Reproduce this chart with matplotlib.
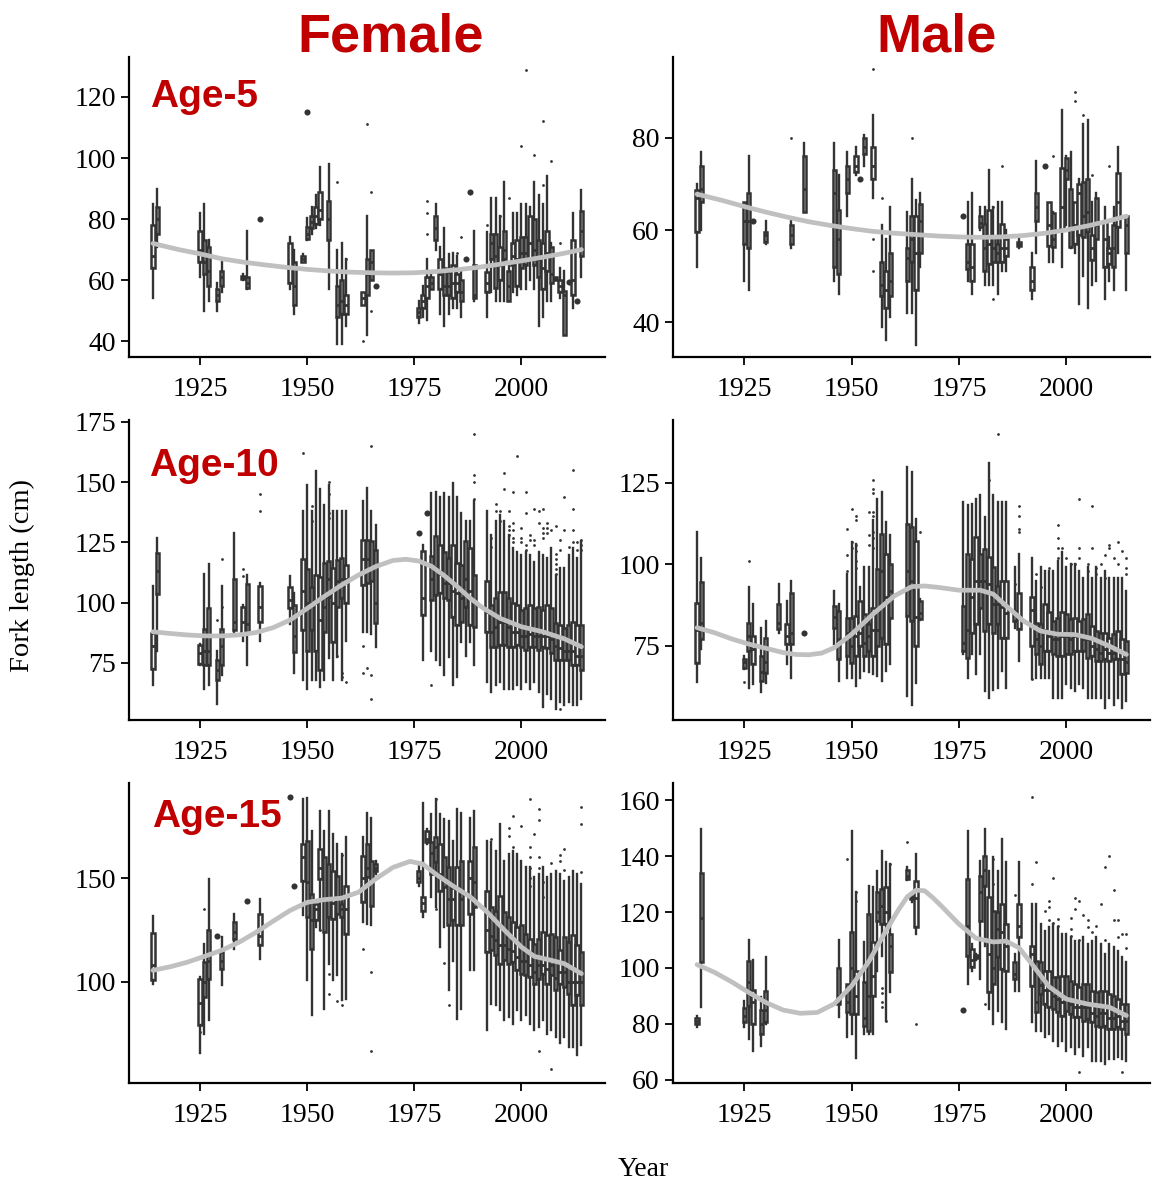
import matplotlib
matplotlib.use('Agg')
import matplotlib.pyplot as plt

# ---------------- DATA ----------------
# box rows: (year, whisker_low, q1, median, q3, whisker_high)
F5_boxes = [
    (1914, 54, 64, 68, 78, 85), (1915, 71, 75, 80, 84, 90),
    (1925, 61, 66, 70, 76, 82), (1926, 50, 62, 66, 73, 85), (1927, 53, 58, 63, 71, 73),
    (1929, 50, 53, 55, 57, 59), (1930, 56, 58, 61, 63, 66),
    (1935, 60, 60.5, 61, 61.5, 62), (1936, 57, 57.5, 59, 61, 76),
    (1946, 57, 59, 64, 72, 74), (1947, 49, 52, 58, 66, 70), (1949, 66, 66, 67, 68, 68.5),
    (1950, 73, 73.4, 75, 77.3, 80.5), (1951, 75, 77, 79, 81, 84), (1952, 77, 78.5, 81, 84, 88),
    (1953, 78, 80, 83, 89, 97), (1955, 57, 73, 80, 86, 98),
    (1957, 39, 48, 52, 58, 70), (1958, 39, 49, 53, 60, 72), (1959, 45, 49, 52, 55, 67),
    (1963, 52, 52, 54, 56, 56), (1964, 42, 55, 62, 67, 81), (1965, 60, 60, 66, 70, 70),
    (1976, 46, 48, 49.5, 51, 53), (1977, 48, 51, 53, 55, 58), (1978, 47, 54, 58, 61, 67),
    (1979, 57, 57, 59, 61, 62), (1980, 70, 73, 77, 81, 85), (1981, 49, 57, 62, 67, 71),
    (1982, 45, 55, 58, 64, 77), (1983, 49, 55, 58, 62.5, 68.5), (1984, 51, 54, 59, 65, 69),
    (1985, 51, 56, 59, 62, 68), (1986, 48, 53, 56, 60, 63), (1989, 53, 54, 55, 65, 76),
    (1992, 48, 56, 59, 62.5, 75.6), (1993, 56, 67, 72, 75, 87), (1994, 53, 57.5, 68, 75, 87),
    (1995, 53, 60, 65, 71, 81), (1996, 53, 67, 70, 76, 92), (1997, 53, 53, 58, 63, 65),
    (1998, 56, 65, 68, 72, 82), (1999, 55, 58, 67, 73, 82), (2000, 57, 64, 69, 74, 85),
    (2001, 57, 65, 69, 74, 85), (2002, 60, 67, 72, 81, 84), (2003, 57, 65, 70, 80, 92),
    (2004, 45, 61, 67, 73, 88), (2005, 48, 57, 64, 72, 85), (2006, 53, 63, 69, 76, 94),
    (2007, 53, 59, 62, 71, 72), (2008, 60, 60, 60.5, 61, 61), (2009, 54, 56, 58, 60, 64),
    (2010, 42, 42, 55, 56.5, 63), (2012, 51, 55, 60, 73, 82), (2014, 61, 68, 76, 82.5, 89.5),
]
F5_single = [(1939, 80), (1966, 58), (1987, 67), (1988, 89), (2011, 59.5), (2013, 53), (1950, 115)]
F5_out = [(1957, 92), (1959, 67), (1963, 40), (1964, 111), (1965, 89), (1965, 50), (1978, 86),
          (1978, 82), (1978, 75), (1985, 69), (1986, 74), (1992, 78), (1995, 81), (1997, 87),
          (2000, 104), (2001, 129), (2003, 101), (2005, 112), (2005, 91), (2007, 99), (2009, 72)]
F5_sm_year = [1914, 1920, 1925, 1930, 1935, 1940, 1945, 1950, 1955, 1960, 1965, 1970, 1975, 1980,
              1985, 1990, 1995, 2000, 2005, 2010, 2014]
F5_sm = [72, 70, 68.6, 67, 65.9, 65, 64.2, 63.5, 63, 62.6, 62.4, 62.3, 62.4, 62.8,
         63.4, 64.2, 65.2, 66.3, 67.5, 68.8, 70]

M5_boxes = [
    (1914, 52, 59.5, 67, 68.7, 70), (1915, 60, 66, 69, 74, 77),
    (1925, 49, 57, 62, 66, 66), (1926, 47, 56, 62, 68, 76), (1930, 57, 57.5, 59, 59.5, 62),
    (1936, 56, 57, 59, 61, 62), (1939, 64, 64, 69, 76, 79),
    (1946, 49, 52, 68, 73, 79), (1947, 46, 50.5, 58, 64.4, 72), (1949, 63, 68, 71, 74, 77),
    (1951, 72, 72.5, 74, 76, 78), (1953, 74, 76.6, 78, 80, 80.7), (1955, 67, 71, 74, 78, 85),
    (1957, 39, 45.6, 48, 53, 61), (1958, 36, 43, 47, 51, 58), (1959, 41, 45.6, 49, 55, 65),
    (1963, 42, 49, 54, 56, 64), (1964, 42, 53, 58, 63, 71), (1965, 35, 47, 55, 63, 66.5),
    (1966, 52, 55, 62, 65.6, 68),
    (1977, 49, 51.5, 53, 57, 66), (1978, 46, 49, 52, 57, 68), (1980, 60, 60.6, 61.5, 63, 65),
    (1981, 48, 51, 56, 61.4, 65), (1982, 48, 52.6, 57, 64.3, 73), (1983, 48, 53, 56, 58.4, 65),
    (1984, 46, 53, 55, 57, 66), (1985, 51, 53, 56, 61.4, 66), (1986, 51, 54.4, 56, 58, 60),
    (1989, 56, 56.5, 57, 57.5, 58), (1992, 45, 47, 49, 52, 55), (1993, 55, 62, 65, 68, 75),
    (1996, 53, 56.6, 61, 66, 66), (1997, 53, 56.4, 58, 63.7, 64), (1999, 52, 60, 65, 73.4, 86),
    (2000, 61, 71, 73, 75.6, 76), (2001, 56, 56.2, 60, 69, 77), (2002, 55, 57, 61, 66, 66),
    (2003, 44, 59, 68, 70, 71), (2004, 50, 58.4, 63, 70.5, 83), (2005, 43, 59.5, 64, 71, 84),
    (2006, 48, 53.5, 56, 59, 66), (2007, 49, 58, 61, 67, 68), (2009, 45, 52, 58, 62, 65),
    (2010, 49, 52.6, 55, 56, 58.4), (2011, 47, 52, 56, 61, 65), (2012, 55, 60.6, 66, 72.3, 78),
    (2014, 47, 55, 61, 63, 63),
]
M5_single = [(1927, 62), (1952, 71), (1976, 63), (1995, 74)]
M5_out = [(1936, 80), (1955, 95), (1955, 58), (1955, 51), (1957, 67), (1964, 80), (1983, 45),
          (1983, 65), (1985, 74), (1997, 76), (2002, 90), (2002, 88), (2004, 85), (2006, 72), (2010, 74)]
M5_sm_year = [1914, 1920, 1925, 1930, 1935, 1940, 1945, 1950, 1955, 1960, 1965, 1970, 1975, 1980,
              1985, 1990, 1995, 2000, 2005, 2010, 2014]
M5_sm = [67.8, 66.4, 65.1, 63.9, 62.8, 61.8, 61, 60.3, 59.7, 59.3, 59, 58.7, 58.5, 58.4,
         58.5, 58.8, 59.3, 60, 60.9, 62, 63]

F10_boxes = [
    (1914, 66, 72.6, 82, 87.5, 107), (1915, 80, 103.5, 113, 120.6, 127),
    (1925, 74, 74.7, 79, 82.4, 83), (1926, 64, 74, 80, 89, 112), (1927, 66, 74, 80, 97.6, 116),
    (1929, 58, 68, 72, 76, 80), (1930, 70, 74, 82, 89, 107), (1933, 87, 88.6, 92, 110, 129),
    (1935, 84, 87, 92, 98, 99), (1936, 74, 88, 91, 107.6, 111.5), (1939, 84, 92, 98, 107, 108),
    (1946, 91, 97.6, 101, 106.7, 111), (1947, 71, 79.6, 86, 99, 104),
    (1949, 68, 88.6, 105, 118, 138), (1950, 64, 80, 100, 114, 149), (1951, 68, 88.6, 100, 106.7, 138),
    (1952, 68, 80, 100, 111.5, 154.6), (1953, 65, 72, 93, 110.8, 147), (1954, 68, 88, 98, 116.4, 140.7),
    (1955, 77, 102.5, 110, 117.1, 149), (1956, 68, 83.8, 100, 114.3, 138),
    (1957, 77.5, 98.3, 109, 117.8, 138), (1958, 68, 101.8, 110, 118.5, 138),
    (1959, 84, 99.7, 110, 115.7, 138),
    (1963, 88, 107.4, 118, 126, 142), (1964, 88, 108, 118, 126, 147.6),
    (1965, 87, 108.8, 115, 125.4, 138), (1966, 81.7, 91.4, 100, 122, 132.4),
    (1977, 76, 94.9, 102, 121.5, 124), (1979, 80, 101.1, 110, 119.2, 145.6),
    (1980, 76, 103.2, 115, 127.5, 146), (1981, 74, 104, 112, 124, 144),
    (1982, 70, 101.8, 108, 121, 145.6), (1983, 77.5, 101, 108, 118.5, 144),
    (1984, 65.7, 94.2, 105, 124, 149.7), (1985, 69, 90.7, 104, 116.4, 144),
    (1986, 83.7, 92, 102, 115.7, 137.2), (1987, 78, 98.3, 110, 125.4, 133.8),
    (1988, 83.7, 90.7, 105, 122.6, 133.8), (1989, 74, 90, 100, 111.5, 142),
    (1992, 67, 88, 96, 108.8, 138), (1993, 63, 81.7, 88, 99, 128), (1994, 65.7, 81.7, 90, 101.8, 133.8),
    (1995, 67, 82.4, 92, 104.6, 136.5), (1996, 64, 82.4, 92, 104.6, 133.8),
    (1997, 64, 81.7, 90, 101.8, 128), (1998, 64, 81.7, 88, 99.7, 122.6), (1999, 66, 82.4, 88, 99, 121),
    (2000, 64, 81.7, 86, 97, 119.9), (2001, 67, 80.3, 86, 97.6, 121), (2002, 64, 81.7, 87, 99, 119.9),
    (2003, 67, 81.7, 86, 97.6, 117), (2004, 63, 80.3, 86, 98.3, 121), (2005, 56.7, 81.7, 86, 97, 119.9),
    (2006, 62, 81, 86, 99, 118.5), (2007, 60, 79, 85, 97.6, 122.6), (2008, 56, 76, 82, 91.4, 111.5),
    (2009, 58.7, 76, 81, 90.7, 114.3), (2010, 57.4, 76, 80, 89.3, 114.3),
    (2011, 58.7, 76, 80, 90.7, 119.9), (2012, 57.4, 74, 80, 92, 122.6),
    (2013, 57.4, 74, 78, 90.7, 118.5), (2014, 60, 72, 78, 90.7, 125.4),
]
F10_single = [(1976, 129), (1978, 137)]
F10_out = [(1930, 118), (1930, 98), (1929, 93), (1935, 114), (1935, 111), (1939, 145), (1939, 138),
           (1949, 162), (1951, 140), (1951, 134), (1955, 150), (1955, 145), (1955, 137), (1955, 135),
           (1957, 78), (1958, 71), (1958, 69), (1959, 67), (1963, 82), (1963, 71), (1964, 73),
           (1965, 165), (1965, 70), (1965, 60), (1979, 66), (1989, 170), (1989, 153), (1989, 150),
           (1989, 143), (1993, 127), (1993, 123), (1994, 141), (1994, 138), (1995, 138), (1995, 134),
           (1996, 154), (1996, 147), (1997, 138), (1997, 132), (1997, 130), (1997, 128), (1998, 146),
           (1998, 133), (1998, 130), (1998, 127), (1998, 125), (1999, 161), (2000, 131), (2000, 127),
           (2000, 125), (2001, 146), (2001, 137), (2001, 124), (2001, 122), (2002, 128), (2002, 126),
           (2003, 139), (2003, 126), (2003, 124), (2004, 138), (2004, 133), (2005, 139), (2005, 131),
           (2005, 129), (2005, 127), (2006, 133), (2006, 131), (2006, 129), (2007, 130), (2008, 132),
           (2008, 120), (2008, 118), (2008, 116), (2008, 114), (2008, 112), (2009, 126), (2009, 122),
           (2009, 56), (2010, 144), (2010, 130), (2011, 123), (2012, 155), (2012, 139), (2012, 130),
           (2012, 125), (2013, 125), (2013, 122), (2014, 126), (2014, 124), (2014, 122)]
F10_sm_year = [1914, 1918, 1922, 1926, 1930, 1934, 1938, 1942, 1946, 1950, 1954, 1958, 1962, 1966,
               1970, 1973, 1976, 1979, 1982, 1985, 1988, 1991, 1995, 2000, 2005, 2010, 2014]
F10_sm = [87.9, 87.2, 86.6, 86.2, 86.2, 86.6, 87.6, 89.6, 92.8, 97.6, 102.6, 107.3, 111.5, 115,
          117.5, 118, 117.3, 115.1, 111.2, 106.7, 101.9, 97.8, 93.5, 90, 87.9, 85, 81.7]

M10_boxes = [
    (1914, 64, 69.9, 80, 88.3, 110), (1915, 74, 77, 82, 94.5, 102),
    (1925, 68, 68.3, 70, 70.9, 72), (1926, 62, 73.5, 78, 82.2, 93), (1927, 63.2, 69.4, 74, 78, 87.8),
    (1929, 61, 64.2, 67, 71.9, 80.6), (1930, 63.7, 66.8, 70, 77.6, 82.7),
    (1933, 79.1, 80.1, 82, 87.8, 94), (1935, 69.4, 75.5, 78, 81.7, 88.9), (1936, 65.2, 75.5, 79, 91.4, 95),
    (1946, 75.5, 80.6, 84, 87.3, 92), (1947, 64.2, 70.9, 77, 85.8, 87.8),
    (1949, 65.2, 71.9, 79, 83.7, 97), (1950, 65.2, 69.9, 75, 83.7, 106.8),
    (1951, 62.7, 71.9, 78, 84.2, 106.3), (1952, 65.2, 75, 79, 88.9, 93),
    (1953, 67.3, 71.9, 76, 84.8, 99.1), (1954, 67, 73.5, 78, 81.7, 99.1),
    (1955, 66.3, 71.9, 80, 86.8, 113.5), (1956, 65.8, 75, 80, 98.6, 120),
    (1957, 64.2, 77.6, 98, 109.4, 122.2), (1958, 67.3, 75.5, 90, 103.2, 112.9),
    (1959, 69.4, 83.7, 92, 100.2, 108.9),
    (1963, 59.6, 84.2, 98, 112.5, 130), (1964, 57, 82.7, 95, 111.4, 128.4),
    (1965, 63.7, 75, 84, 107.3, 114), (1966, 83, 83.2, 85, 88.9, 89.4),
    (1976, 72.4, 73.5, 76, 87.3, 119.1), (1977, 65.2, 71.4, 80, 103.2, 118.1),
    (1978, 72.4, 79.1, 90, 101.7, 118.6), (1979, 66.3, 81.7, 95, 108.4, 120.2),
    (1980, 72.4, 86.8, 95, 103.2, 121.2), (1981, 61.1, 79.6, 95, 104.8, 114.5),
    (1982, 59.1, 81.7, 94, 102.2, 131), (1983, 61.6, 79.1, 88, 99.1, 121.2),
    (1984, 62.2, 81.7, 88, 93.5, 119.1), (1985, 67.3, 77.6, 87, 95, 119.1),
    (1986, 62.2, 77.6, 85, 95, 119.1), (1988, 80.6, 82.7, 85, 85.8, 99.1),
    (1989, 70.4, 80.1, 84, 91.4, 103.2),
    (1992, 65, 75, 86, 90, 102), (1993, 65.2, 72.4, 77, 82.2, 95), (1994, 65.2, 69.4, 75, 81.7, 99.1),
    (1995, 65.2, 73.5, 80, 87.8, 98), (1996, 65.2, 73.5, 78, 85.3, 98), (1997, 59.1, 72.4, 77, 82.7, 98),
    (1998, 59.1, 71.9, 77, 83.7, 101.2), (1999, 59.1, 71.9, 78, 85.3, 103.7),
    (2000, 63.2, 72.4, 78, 84.8, 99.1), (2001, 62.2, 72.4, 77, 83.2, 100.2),
    (2002, 61.1, 73.5, 78, 83.7, 100.2), (2003, 63.2, 73.5, 78, 82.7, 98),
    (2004, 62.2, 73.5, 77, 83.2, 96), (2005, 59.1, 71.4, 77, 84.8, 99.1),
    (2006, 59.1, 71.9, 75, 81.2, 96), (2007, 59.1, 70.4, 74, 79.6, 99.1),
    (2008, 59.1, 70.4, 73, 79.1, 96), (2009, 56, 70.9, 74, 79.1, 98),
    (2010, 59.1, 70.4, 73, 77.6, 96), (2011, 57, 70.9, 73, 78.6, 96),
    (2012, 59.1, 70.9, 74, 79.6, 96), (2013, 56, 66.3, 71, 77, 96), (2014, 58, 66.8, 70, 76.5, 92),
]
M10_single = [(1939, 79)]
M10_out = [(1925, 64), (1926, 101), (1949, 111), (1949, 103), (1949, 98), (1950, 117), (1950, 107),
           (1950, 105), (1951, 115), (1951, 113.5), (1951, 106), (1951, 104), (1951, 101), (1951, 99),
           (1954, 116), (1954, 109), (1954, 106), (1955, 126), (1955, 123), (1955, 122), (1955, 116),
           (1955, 115), (1955, 110), (1955, 108), (1955, 105), (1966, 110), (1982, 126), (1984, 140),
           (1988, 94), (1989, 118), (1989, 115), (1989, 111), (1989, 110), (1992, 65), (1993, 97),
           (1994, 93), (1996, 99), (1998, 112), (1998, 108), (1998, 105), (1998, 102), (1999, 105),
           (2000, 102), (2001, 100), (2002, 100), (2003, 120), (2003, 105), (2003, 102), (2005, 100),
           (2005, 98), (2006, 118), (2006, 105), (2007, 99), (2007, 97), (2008, 100), (2009, 103),
           (2009, 96), (2010, 106), (2010, 105), (2011, 102), (2012, 107), (2012, 100), (2013, 104),
           (2014, 102), (2014, 99), (2014, 97)]
M10_sm_year = [1914, 1918, 1922, 1926, 1930, 1934, 1937, 1940, 1943, 1946, 1950, 1955, 1960, 1964,
               1967, 1970, 1975, 1980, 1983, 1986, 1990, 1994, 1998, 2002, 2006, 2010, 2014]
M10_sm = [80.6, 79.1, 77.2, 75.6, 74.3, 73, 72.4, 72.3, 72.8, 74.5, 78.6, 84.8, 90.4, 93.2,
          93.4, 93, 92.1, 92.1, 90.9, 87.3, 82.7, 79.6, 78.6, 78.5, 77.3, 75, 72.4]

F15_boxes = [
    (1914, 99.2, 100.8, 108, 123.6, 131.5),
    (1925, 65.7, 79.2, 90, 101.6, 102.4), (1926, 75.2, 92.8, 100, 109.6, 118.4),
    (1927, 81.6, 101.6, 110, 124.8, 149.5), (1930, 98.4, 106.4, 110, 114.4, 121.6),
    (1933, 116, 120.8, 124, 128.8, 132.7), (1939, 111.2, 117.6, 122, 132.7, 140),
    (1949, 132, 148.7, 160, 166.3, 187.9), (1950, 100.8, 131.2, 148, 167.9, 188.7),
    (1951, 84, 116, 130, 142.3, 172.7), (1952, 126.4, 129.6, 135, 137.5, 137.5),
    (1953, 124.8, 149.5, 155, 163.9, 182.3), (1954, 87.2, 124, 140, 159.9, 172.7),
    (1955, 108.8, 131.2, 140, 156.7, 182.3), (1956, 100.8, 130.4, 138, 153.5, 171.1),
    (1957, 103.2, 132.7, 140, 151.1, 166.3), (1958, 91.2, 131.2, 135, 137.5, 161.5),
    (1959, 92, 123.2, 135, 146.3, 169.5),
    (1963, 128.8, 138.3, 150, 160.7, 169.5), (1964, 128, 150.3, 155, 166.3, 181.5),
    (1965, 127.2, 136.7, 148, 158.3, 179), (1966, 151.9, 153.5, 155, 156.7, 158.3),
    (1976, 146.3, 147.9, 150, 153.5, 156.7), (1977, 131.2, 134.3, 138, 140.7, 186.3),
    (1978, 166.3, 167.1, 169, 172.7, 173.5), (1979, 140.7, 151.9, 162, 167.1, 180.7),
    (1980, 136, 157.5, 165, 169.5, 187.9), (1981, 116.8, 143.9, 152, 166.3, 180.7),
    (1982, 126.4, 145.5, 150, 159.9, 178.3), (1983, 96, 127.2, 140, 155.1, 177.5),
    (1984, 110, 130, 140, 145, 168), (1985, 82.4, 127.2, 145, 155.1, 183),
    (1986, 87.2, 127.2, 140, 158.3, 181.5), (1988, 105.6, 132.7, 150, 158.3, 179),
    (1989, 105.6, 135.9, 148, 164.7, 182.3),
    (1992, 76.8, 114.4, 125, 143.9, 167.9), (1993, 89.6, 115.2, 122, 135.9, 167.1),
    (1994, 88.8, 112.8, 120, 134.3, 163.1), (1995, 86.4, 108.8, 118, 141.5, 175.9),
    (1996, 81.6, 110.4, 118, 133.5, 158.3), (1997, 83.2, 108.8, 116, 131.2, 161.5),
    (1998, 80, 109.6, 115, 128.8, 163.1), (1999, 86.4, 105.6, 112, 126.4, 161.5),
    (2000, 81.6, 104, 110, 127.2, 158.3), (2001, 84, 103.2, 110, 123.2, 155.1),
    (2002, 80, 102.4, 108, 120.8, 155.1), (2003, 76.8, 99.2, 105, 118.4, 150.3),
    (2004, 78.4, 101.6, 108, 120.8, 151.9), (2005, 81.6, 104, 108, 124, 155.1),
    (2006, 75.2, 99.2, 106, 122.4, 150.3), (2007, 76.8, 103.2, 108, 123.2, 151.9),
    (2008, 73.6, 96, 102, 121.6, 153.5), (2009, 70.4, 99.2, 105, 115.2, 151.9),
    (2010, 73.6, 97.6, 105, 121.6, 148.7), (2011, 68.8, 94.4, 100, 119.2, 150.3),
    (2012, 68.8, 88.8, 100, 122.4, 153.5), (2013, 64.9, 93.6, 100, 117.6, 151.9),
    (2014, 69.6, 88.8, 100, 114.4, 147.1),
]
F15_single = [(1929, 122), (1936, 139), (1946, 189), (1947, 146)]
F15_out = [(1925, 76), (1926, 135), (1953, 125), (1955, 104), (1955, 94), (1957, 91), (1958, 89),
           (1958, 161), (1963, 116), (1965, 105), (1965, 67), (1980, 188), (1980, 135), (1982, 109),
           (1983, 89), (1993, 169), (1997, 174), (1997, 170), (1998, 180), (1998, 165), (2000, 175),
           (2002, 188), (2002, 165), (2002, 160), (2002, 155), (2002, 150), (2002, 146), (2003, 171),
           (2004, 183), (2004, 178), (2004, 160), (2004, 155), (2005, 148), (2005, 141), (2007, 157),
           (2009, 161), (2009, 158), (2010, 164), (2010, 154), (2014, 184), (2014, 176), (2014, 153),
           (2004, 67), (2007, 58)]
F15_sm_year = [1914, 1918, 1922, 1926, 1930, 1934, 1938, 1942, 1946, 1950, 1954, 1958, 1962, 1966,
               1970, 1974, 1977, 1980, 1984, 1988, 1992, 1996, 2000, 2003, 2007, 2010, 2014]
F15_sm = [105.6, 107.3, 109.5, 112.3, 115.2, 119, 123.8, 129.2, 134.4, 138.3, 139.6, 140.3, 143.2,
          149.6, 155.1, 158, 156.7, 151.9, 146.2, 141, 133.6, 125, 116.8, 112.3, 110.4, 108.8, 104]

M15_boxes = [
    (1914, 79, 80, 81, 82, 83), (1915, 86, 102, 118, 133.8, 149.6),
    (1925, 78.8, 80.6, 83, 85.7, 88.3), (1926, 74.6, 86.5, 95, 102.4, 110),
    (1927, 70.2, 80, 88, 92.1, 102.9), (1929, 72.3, 76.4, 80, 85, 89.5),
    (1930, 80, 80.6, 85, 91.9, 103.8),
    (1947, 82.4, 87.1, 90, 100, 110), (1949, 75.2, 84.2, 88, 94.3, 94.3),
    (1950, 76.4, 83.6, 100, 112.7, 149), (1951, 68, 83.6, 90, 99, 127),
    (1953, 76.4, 79.4, 82, 94.9, 109.2), (1954, 76.4, 77.6, 90, 119.3, 129.4),
    (1955, 76.4, 90.1, 97, 109.2, 128.8), (1956, 99, 116.9, 120, 127, 134.8),
    (1957, 104.4, 115.7, 122, 128.2, 141.9), (1958, 81.2, 115.7, 120, 128.8, 137.7),
    (1959, 91.3, 98.5, 108, 112.1, 137.1),
    (1963, 131.6, 131.8, 133, 135, 136), (1964, 123.5, 124.5, 125, 125.2, 126),
    (1965, 112.1, 114.5, 125, 131.2, 140.7),
    (1977, 94.3, 104.4, 115, 131.8, 149), (1978, 99, 100.2, 103, 106.8, 108.6),
    (1979, 103, 103.5, 104, 104.5, 105), (1980, 96.1, 116.9, 127, 133, 138.3),
    (1981, 108, 129.4, 135, 140.1, 149.6), (1982, 85.4, 91.3, 105, 125.2, 134.8),
    (1983, 80, 94.3, 100, 120.5, 139.5), (1984, 84.8, 103.8, 114, 119.9, 134.8),
    (1985, 80.6, 99.6, 113, 122.9, 146.1), (1986, 78.2, 99, 108, 115.7, 137.7),
    (1988, 91.9, 96.1, 98, 102, 105), (1989, 91.9, 110.9, 115, 122.9, 137.7),
    (1992, 80.6, 93.7, 105, 108, 122.9), (1993, 77.6, 84.2, 88, 102.6, 122.9),
    (1994, 77.6, 90.7, 94, 102, 115.7), (1995, 75.2, 87.1, 92, 99, 113.3),
    (1996, 76.4, 86, 92, 99, 114.5), (1997, 74, 85.4, 90, 96.7, 115.7),
    (1998, 72.3, 84.2, 89, 96.7, 114.5), (1999, 74, 83, 88, 97.3, 112.1),
    (2000, 70.5, 84.8, 89, 97.3, 112.1), (2001, 71.7, 83.6, 87, 95.5, 110.9),
    (2002, 69.3, 82.4, 86, 94.3, 109.8), (2003, 71.7, 82.4, 86, 93.1, 109.8),
    (2004, 68.7, 81.2, 86, 94.3, 110.9), (2005, 71.7, 81.8, 86, 94.3, 108.6),
    (2006, 66.9, 80.6, 84, 91.9, 109.8), (2007, 66.9, 79.4, 83, 91.3, 110.9),
    (2008, 66.9, 78.8, 84, 91.9, 108.6), (2009, 65.7, 79.4, 84, 91.9, 105),
    (2010, 67.5, 78.2, 82, 90.7, 108.6), (2011, 67.5, 78.2, 82, 90.1, 107.4),
    (2012, 68.1, 78.8, 83, 88.9, 106.2), (2013, 67.5, 78.2, 81, 87.1, 103.8),
    (2014, 66.9, 76.4, 81, 87.1, 102),
]
M15_single = [(1976, 85)]
M15_out = [(1949, 139), (1951, 127), (1951, 124), (1957, 93), (1957, 91), (1957, 88), (1957, 86),
           (1958, 81), (1959, 137), (1963, 145), (1965, 80), (1981, 87), (1983, 139), (1983, 130),
           (1988, 126), (1992, 161), (1992, 130), (1993, 138), (1995, 120.5), (1996, 124), (1996, 121.7),
           (1996, 117), (1997, 132), (1997, 116), (1998, 117.5), (1998, 115), (2001, 118), (2001, 114),
           (2001, 111.5), (2002, 125), (2002, 121), (2003, 124), (2003, 110), (2004, 119), (2005, 117),
           (2005, 114.5), (2006, 113), (2007, 115), (2008, 123), (2009, 136), (2009, 110), (2010, 140),
           (2011, 117), (2011, 128), (2012, 117), (2012, 111), (2013, 112), (2014, 112), (2014, 107),
           (2003, 63), (2013, 63)]
M15_sm_year = [1914, 1918, 1922, 1926, 1930, 1934, 1938, 1942, 1946, 1950, 1954, 1958, 1961, 1963,
               1965, 1967, 1969, 1971, 1975, 1979, 1983, 1986, 1989, 1992, 1996, 2000, 2005, 2010, 2014]
M15_sm = [101.2, 98.5, 95.1, 91.3, 87.7, 85, 83.8, 84.1, 87.2, 93.6, 102.3, 113.3, 121, 125.5,
          127.8, 127.6, 125, 122, 115.7, 110.6, 109.3, 109.6, 107.2, 101.4, 93.3, 88.9, 87.1, 86, 83]

X_TICKS = [1925, 1950, 1975, 2000]
COLUMN_TITLES = ["Female", "Male"]
ROW_LABELS = ["Age-5", "Age-10", "Age-15"]

# ---------------- STYLE / LAYOUT ----------------
W, H = 1153, 1188
DARK = '#333333'
RED = '#C00000'
SERIF = 'Liberation Serif'
SANS = 'Liberation Sans'

fig = plt.figure(figsize=(W / 100, H / 100), dpi=100)


def add_ax(l, t, r, b):
    return fig.add_axes([l / W, 1 - b / H, (r - l) / W, (b - t) / H])


def draw(ax, boxes, singles, outs, sm_x, sm_y, ylim, yticks):
    stats = [dict(med=m, q1=a, q3=c, whislo=lo, whishi=hi, fliers=[])
             for (yr, lo, a, m, c, hi) in boxes]
    pos = [b[0] for b in boxes]
    ax.bxp(stats, positions=pos, widths=0.8, patch_artist=True, showfliers=False,
           showcaps=False, manage_ticks=False,
           boxprops=dict(facecolor='#f2f2f2', edgecolor=DARK, linewidth=1.8),
           whiskerprops=dict(color=DARK, linewidth=1.7),
           medianprops=dict(color=DARK, linewidth=2.0))
    if outs:
        ax.plot([o[0] for o in outs], [o[1] for o in outs], 'o', ms=2.0, color=DARK,
                mec='none', zorder=3)
    if singles:
        ax.plot([s[0] for s in singles], [s[1] for s in singles], 'o', ms=4.4, color=DARK,
                mec='none', zorder=3)
    ax.plot(sm_x, sm_y, color='#C0C0C0', lw=3.4, solid_capstyle='round',
            solid_joinstyle='round', zorder=5)
    ax.set_xlim(1908.4, 2019.5)
    ax.set_ylim(*ylim)
    ax.set_xticks(X_TICKS)
    ax.set_yticks(yticks)
    for s in ('top', 'right'):
        ax.spines[s].set_visible(False)
    for s in ('left', 'bottom'):
        ax.spines[s].set_linewidth(1.6)
        ax.spines[s].set_color('black')
    ax.tick_params(direction='out', length=5.5, width=1.3, color='black')
    ax.tick_params(axis='x', pad=9)
    ax.tick_params(axis='y', pad=4)
    for lab in ax.get_xticklabels() + ax.get_yticklabels():
        lab.set_fontfamily(SERIF)
        lab.set_fontsize(20)
    ax.set_facecolor('none')


# axes boxes in pixels (left, top, right, bottom)
FL, FR, ML, MR = 129, 605, 673, 1150
rows = [(57, 357), (420, 720), (783, 1083)]

axF5 = add_ax(FL, rows[0][0], FR, rows[0][1])
axM5 = add_ax(ML, rows[0][0], MR, rows[0][1])
axF10 = add_ax(FL, rows[1][0], FR, rows[1][1])
axM10 = add_ax(ML, rows[1][0], MR, rows[1][1])
axF15 = add_ax(FL, rows[2][0], FR, rows[2][1])
axM15 = add_ax(ML, rows[2][0], MR, rows[2][1])

draw(axF5, F5_boxes, F5_single, F5_out, F5_sm_year, F5_sm, (34.8, 133.1), [40, 60, 80, 100, 120])
draw(axM5, M5_boxes, M5_single, M5_out, M5_sm_year, M5_sm, (32.4, 97.6), [40, 60, 80])
draw(axF10, F10_boxes, F10_single, F10_out, F10_sm_year, F10_sm, (51.3, 175.8), [75, 100, 125, 150, 175])
draw(axM10, M10_boxes, M10_single, M10_out, M10_sm_year, M10_sm, (52.3, 144.3), [75, 100, 125])
draw(axF15, F15_boxes, F15_single, F15_out, F15_sm_year, F15_sm, (51.4, 195.7), [100, 150])
draw(axM15, M15_boxes, M15_single, M15_out, M15_sm_year, M15_sm, (58.9, 166.1), [60, 80, 100, 120, 140, 160])

# column titles
fig.text(391 / W, 1 - 52 / H, COLUMN_TITLES[0], ha='center', va='baseline', fontsize=39,
         fontweight='bold', color=RED, family=SANS)
fig.text(937 / W, 1 - 52 / H, COLUMN_TITLES[1], ha='center', va='baseline', fontsize=39,
         fontweight='bold', color=RED, family=SANS)

# row labels
for lbl, x, yb in zip(ROW_LABELS, [150, 149, 152], [107, 476, 827]):
    fig.text(x / W, 1 - yb / H, lbl, ha='left', va='baseline', fontsize=28,
             fontweight='bold', color=RED, family=SANS)

fig.text(22 / W, 1 - 575 / H, 'Fork length (cm)', rotation=90, ha='center', va='center',
         fontsize=20.5, family=SERIF)
fig.text(643 / W, 1 - 1170 / H, 'Year', ha='center', va='center', fontsize=20, family=SERIF)

fig.savefig('out.png', dpi=100, facecolor='white')
